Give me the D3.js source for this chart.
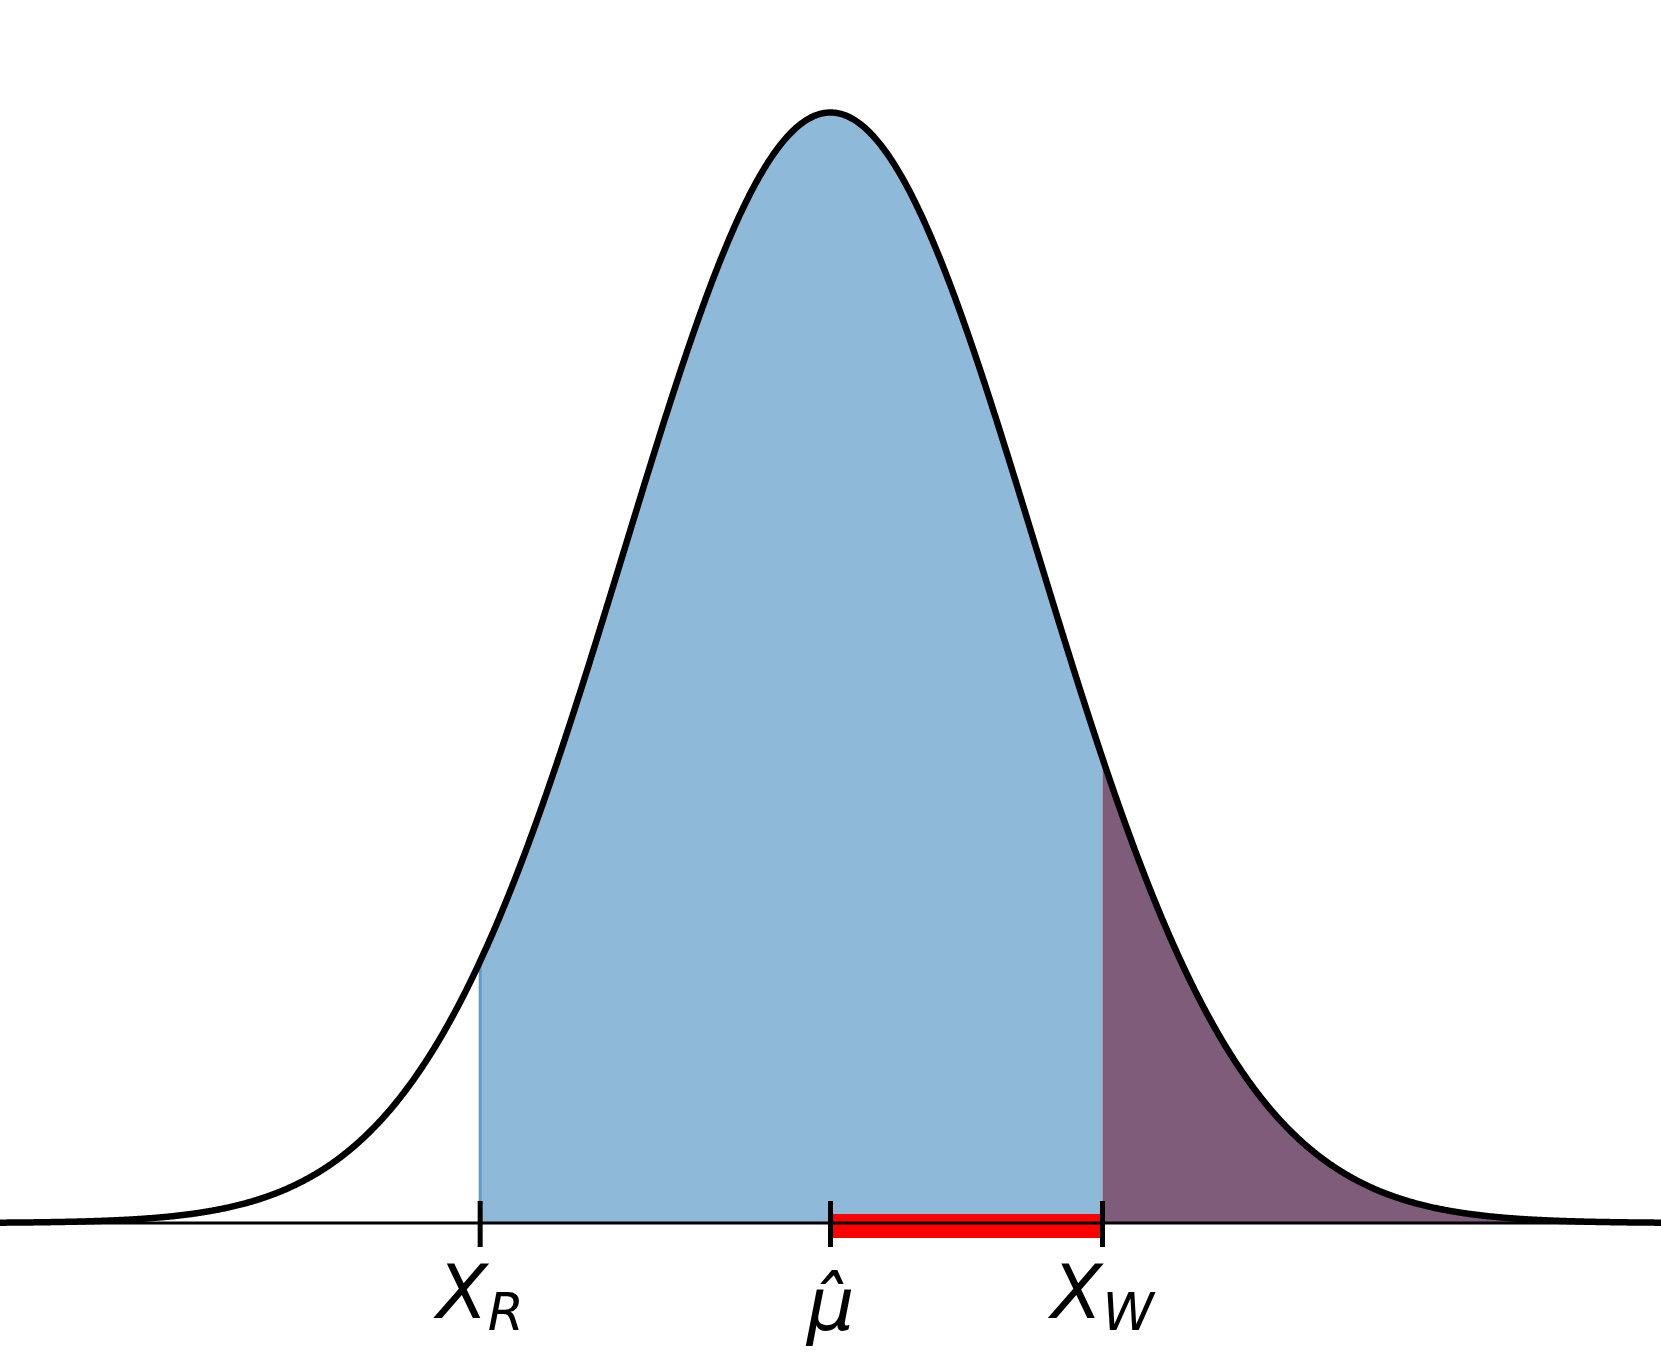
<!DOCTYPE html>
<html>
<head>
<meta charset="utf-8">
<script src="https://cdn.jsdelivr.net/npm/d3@7"></script>
<style>
  body { margin: 0; background: #fff; }
</style>
</head>
<body>
<svg id="chart"></svg>
<script>
// chart size
const width = 1661;
const height = 1352;

// distribution parameters
const muHat = 0;
const sigma = 1;
const xLimits = [-4.03, 4.03];

// marked points on the axis
const markerValues = [-1.70, 0, 1.32];
const labelMain = ["X", "\u03BC\u0302", "X"];
const labelSub = ["R", "", "W"];

const xR = markerValues[0];
const xW = markerValues[2];

const svg = d3.select("#chart").attr("width", width).attr("height", height);

// Scales
const x = d3.scaleLinear().domain(xLimits).range([0, width]);
const peak = 1 / (sigma * Math.sqrt(2 * Math.PI));
const y = d3.scaleLinear().domain([0, peak]).range([1223, 112.5]);

// normal density sampled over the x range
const pdf = (v) => peak * Math.exp(-0.5 * ((v - muHat) / sigma) ** 2);
const grid = d3.range(xLimits[0], xLimits[1] + 0.005, 0.005);
const curve = grid.map((v) => ({ x: v, y: pdf(v) }));

const area = d3.area()
  .x((d) => x(d.x))
  .y0(y(0))
  .y1((d) => y(d.y));

// blue region between X_R and X_W
const blueData = [{ x: xR, y: pdf(xR) }]
  .concat(curve.filter((d) => d.x > xR && d.x < xW))
  .concat([{ x: xW, y: pdf(xW) }]);
svg.append("path")
  .datum(blueData)
  .attr("d", area)
  .attr("fill", "#8fb9d9");

// purple region right of X_W
const purpleData = [{ x: xW, y: pdf(xW) }].concat(curve.filter((d) => d.x > xW));
svg.append("path")
  .datum(purpleData)
  .attr("d", area)
  .attr("fill", "#7e5c7a");

// edge of the blue fill at X_R
svg.append("line")
  .attr("x1", x(xR)).attr("x2", x(xR))
  .attr("y1", y(0)).attr("y2", y(pdf(xR)))
  .attr("stroke", "#5f9bcc")
  .attr("stroke-width", 3);

// red interval from mu-hat to X_W
svg.append("rect")
  .attr("x", x(muHat))
  .attr("y", y(0) - 9)
  .attr("width", x(xW) - x(muHat))
  .attr("height", 24)
  .attr("fill", "#ff0000");

// axis line
svg.append("line")
  .attr("x1", 0).attr("x2", width)
  .attr("y1", y(0)).attr("y2", y(0))
  .attr("stroke", "#000")
  .attr("stroke-width", 3);

// ticks
svg.selectAll("line.tick")
  .data(markerValues)
  .enter()
  .append("line")
  .attr("class", "tick")
  .attr("x1", (d) => x(d)).attr("x2", (d) => x(d))
  .attr("y1", y(0) - 22).attr("y2", y(0) + 24)
  .attr("stroke", "#000")
  .attr("stroke-width", 5);

// density curve
svg.append("path")
  .datum(curve)
  .attr("d", d3.line().x((d) => x(d.x)).y((d) => y(d.y)))
  .attr("fill", "none")
  .attr("stroke", "#000")
  .attr("stroke-width", 6.5)
  .attr("stroke-linejoin", "round");

// tick labels
const labels = svg.selectAll("text.label")
  .data(markerValues)
  .enter()
  .append("text")
  .attr("class", "label")
  .attr("x", (d) => x(d))
  .attr("y", (d, i) => (labelSub[i] === "" ? 1330 : 1318))
  .attr("text-anchor", "middle")
  .style("font-family", "'DejaVu Sans', sans-serif")
  .style("font-style", "italic")
  .style("font-size", "75px")
  .attr("fill", "#000");

labels.append("tspan").text((d, i) => labelMain[i]);
labels.filter((d, i) => labelSub[i] !== "")
  .append("tspan")
  .attr("dy", 12)
  .style("font-size", "52px")
  .text((d) => labelSub[markerValues.indexOf(d)]);
</script>
</body>
</html>
